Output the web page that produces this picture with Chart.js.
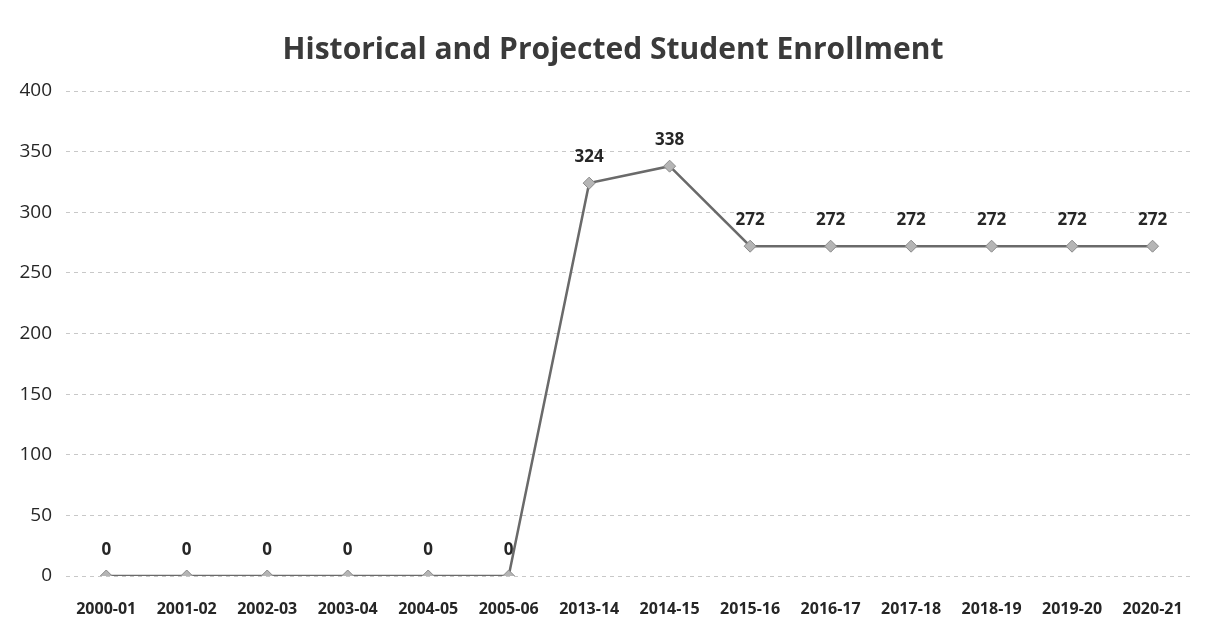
<!DOCTYPE html>
<html>
<head>
<meta charset="utf-8">
<script src="https://cdn.jsdelivr.net/npm/chart.js@4.4.0/dist/chart.umd.min.js"></script>
<style>
  html, body { margin: 0; padding: 0; background: #fff; }
  #wrap { width: 1207px; height: 629px; }
</style>
</head>
<body>
<div id="wrap"><canvas id="myChart" width="1207" height="629"></canvas></div>
<script>
// school years on the x axis
const years = ['2000-01', '2001-02', '2002-03', '2003-04', '2004-05', '2005-06', '2013-14',
  '2014-15', '2015-16', '2016-17', '2017-18', '2018-19', '2019-20', '2020-21'];
// enrollment per year
const enrollment = [0, 0, 0, 0, 0, 0, 324, 338, 272, 272, 272, 272, 272, 272];
const yTicks = [0, 50, 100, 150, 200, 250, 300, 350, 400];
const chartTitle = 'Historical and Projected Student Enrollment';

const fontFam = '"Open Sans", "Liberation Sans", sans-serif';

// value above each point + title (drawn by hand so it sits a bit right of centre like the original)
const valueLabels = {
  id: 'valueLabels',
  afterDatasetsDraw(chart) {
    const ctx = chart.ctx;
    const meta = chart.getDatasetMeta(0);
    ctx.save();
    ctx.font = 'bold 17px ' + fontFam;
    ctx.fillStyle = '#262626';
    ctx.textAlign = 'center';
    ctx.textBaseline = 'middle';
    meta.data.forEach((pt, i) => {
      ctx.fillText(String(enrollment[i]), pt.x, pt.y - 26);
    });
    ctx.font = 'bold 30px ' + fontFam;
    ctx.fillStyle = '#3a3a3a';
    ctx.fillText(chartTitle, 613, 50);
    ctx.restore();
  }
};

const ctx = document.getElementById('myChart').getContext('2d');
const myChart = new Chart(ctx, {
  type: 'line',
  data: {
    labels: years,
    datasets: [{
      data: enrollment,
      borderColor: '#6a6a6a',
      borderWidth: 2.5,
      pointStyle: 'rectRot',
      pointRadius: 6,
      pointBackgroundColor: '#b5b5b5',
      pointBorderColor: '#8a8a8a',
      pointBorderWidth: 1,
      tension: 0
    }]
  },
  options: {
    responsive: false,
    animation: false,
    layout: { padding: { left: 4, right: 12, top: 91, bottom: 10 } },
    plugins: {
      legend: { display: false },
      tooltip: { enabled: false },
      title: { display: false }
    },
    scales: {
      x: {
        offset: true,
        afterFit: s => { s.height = 43; },
        grid: { display: false, drawTicks: false },
        border: { display: false },
        ticks: {
          color: '#262626',
          padding: 24,
          maxRotation: 0,
          autoSkip: false,
          font: { family: fontFam, size: 16, weight: 'bold' }
        }
      },
      y: {
        min: 0,
        max: 400,
        afterBuildTicks: s => { s.ticks = yTicks.map(v => ({ value: v })); },
        afterFit: s => { s.width = 62; },
        grid: { color: '#c8c8c8', drawTicks: false },
        border: { display: false, dash: [4, 4] },
        ticks: {
          color: '#262626',
          padding: 14,
          font: { family: fontFam, size: 19 }
        }
      }
    }
  },
  plugins: [valueLabels]
});
</script>
</body>
</html>
